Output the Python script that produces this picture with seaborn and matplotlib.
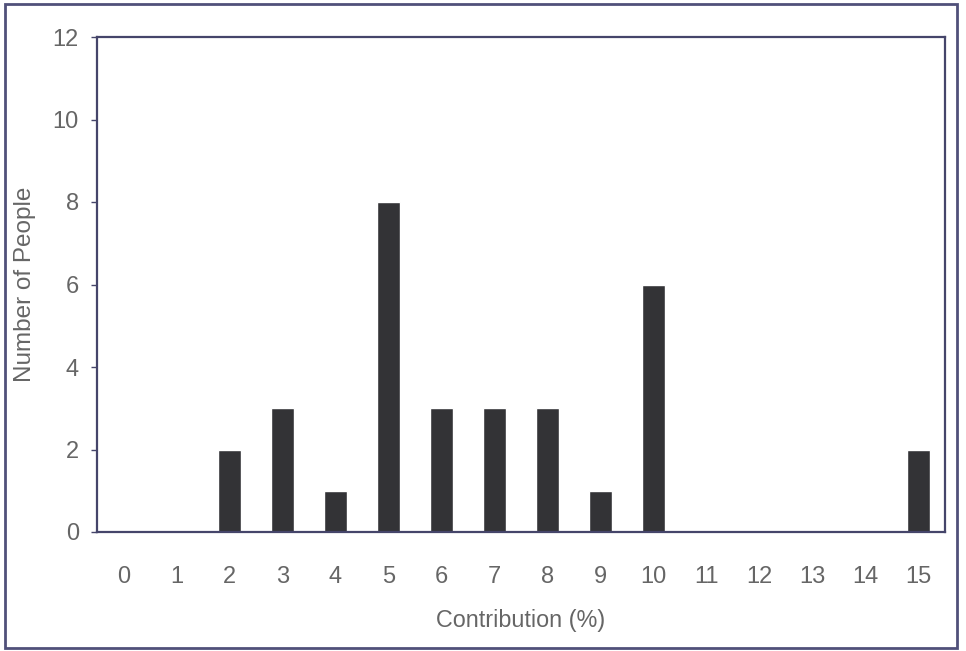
import matplotlib
matplotlib.use("Agg")
import matplotlib.pyplot as plt
from matplotlib.patches import Rectangle
from matplotlib.ticker import FixedLocator
import seaborn as sns
import pandas as pd

# Contribution percentages and the number of people at each level
contribution = [str(c) for c in range(16)]
people = [0, 0, 2, 3, 1, 8, 3, 3, 3, 1, 6, 0, 0, 0, 0, 2]
y_ticks = [0, 2, 4, 6, 8, 10, 12]

df = pd.DataFrame({"Contribution": contribution, "People": people})

sns.set_theme(style="white")
plt.rcParams["font.family"] = ["Liberation Sans", "DejaVu Sans"]

W, H = 966, 651
fig = plt.figure(figsize=(W / 100, H / 100), dpi=100)
fig.patch.set_facecolor("white")

frame_col = "#45456a"
text_col = "#666666"
bar_col = "#333336"

ax = fig.add_axes([97 / W, 1 - 532 / H, (945 - 97) / W, (532 - 37) / H])
sns.barplot(data=df, x="Contribution", y="People", order=contribution,
            color=bar_col, width=0.44, saturation=1, ax=ax)

ax.set_xlim(-0.5, len(contribution) - 0.5)
ax.set_ylim(0, 12)
ax.set_yticks(y_ticks)
ax.set_yticklabels([str(t) for t in y_ticks])

# Category ticks sit between the bars, labels centred under each bar
ax.xaxis.set_minor_locator(FixedLocator([i - 0.5 for i in range(len(contribution) + 1)]))
ax.tick_params(axis="x", which="major", length=0, pad=24.5, labelsize=17, colors=text_col)
ax.tick_params(axis="x", which="minor", length=5, width=1, color=frame_col, direction="out")
ax.tick_params(axis="y", which="major", length=4, width=1, color=frame_col,
               direction="out", pad=9, labelsize=17, labelcolor=text_col)
ax.tick_params(axis="y", left=True)

for s in ax.spines.values():
    s.set_visible(True)
    s.set_color(frame_col)
    s.set_linewidth(1.6)

ax.set_xlabel("Contribution (%)", fontsize=16.8, color=text_col, labelpad=15)
ax.set_ylabel("")
fig.text(25 / W, 1 - 284 / H, "Number of People", rotation=90, ha="center",
         va="center", fontsize=17.5, color=text_col)

# Chart-area border
fig.add_artist(Rectangle((5 / W, 1 - 648 / H), (957 - 5) / W, (648 - 4) / H,
                         transform=fig.transFigure, fill=False,
                         edgecolor="#50507a", linewidth=2))

fig.savefig("out.png", dpi=100)
